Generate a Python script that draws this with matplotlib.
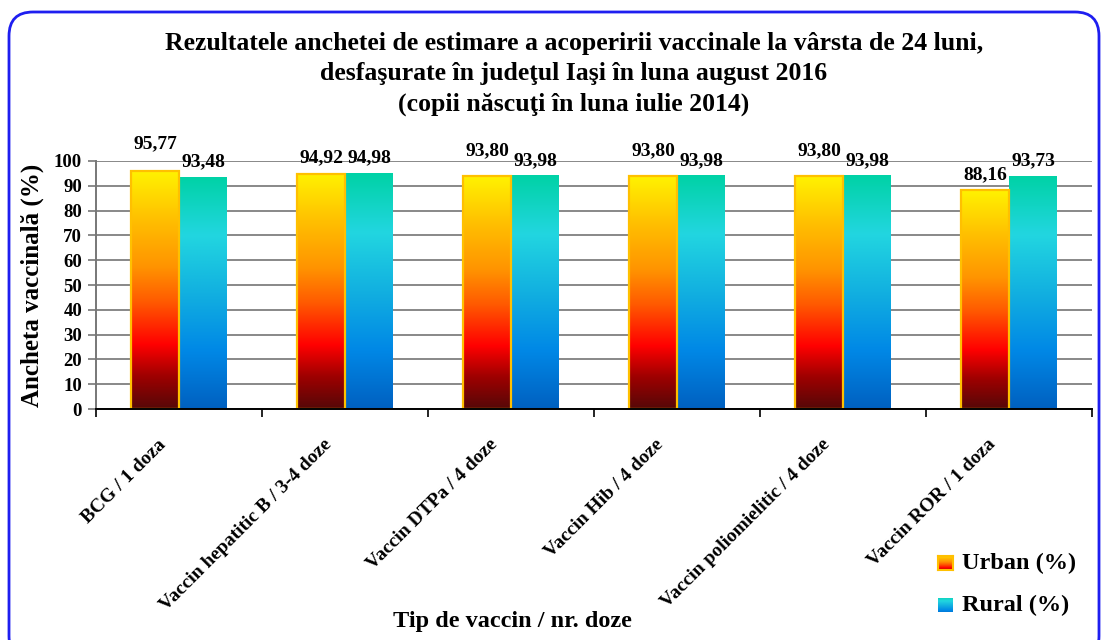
import numpy as np
import matplotlib
matplotlib.use("Agg")
import matplotlib.pyplot as plt
from matplotlib.colors import LinearSegmentedColormap
from matplotlib.patches import FancyBboxPatch

# ---------------- data ----------------
categories = ["BCG / 1 doza", "Vaccin hepatitic B / 3-4 doze", "Vaccin DTPa / 4 doze",
              "Vaccin Hib / 4 doze", "Vaccin poliomielitic / 4 doze", "Vaccin ROR / 1 doza"]
urban = [95.77, 94.92, 93.80, 93.80, 93.80, 88.16]
rural = [93.48, 94.98, 93.98, 93.98, 93.98, 93.73]
urban_labels = ["95,77", "94,92", "93,80", "93,80", "93,80", "88,16"]
rural_labels = ["93,48", "94,98", "93,98", "93,98", "93,98", "93,73"]
yticks = [0, 10, 20, 30, 40, 50, 60, 70, 80, 90, 100]
series_names = ["Urban (%)", "Rural (%)"]
title = ("Rezultatele anchetei de estimare a acoperirii vaccinale la vârsta de 24 luni,\n"
         "desfaşurate în judeţul Iaşi în luna august 2016\n"
         "(copii născuţi în luna iulie 2014)")
ylabel = "Ancheta vaccinală (%)"
xlabel = "Tip de vaccin / nr. doze"

# ---------------- style ----------------
FONT = "Liberation Serif"
plt.rcParams["font.family"] = [FONT, "DejaVu Serif"]
plt.rcParams["font.weight"] = "bold"

urban_cmap = LinearSegmentedColormap.from_list("urban", [
    (0.00, "#560808"), (0.14, "#A00000"), (0.27, "#FF0000"), (0.45, "#FF5A00"),
    (0.60, "#FF9400"), (0.80, "#FFC000"), (1.00, "#FFF200")])
rural_cmap = LinearSegmentedColormap.from_list("rural", [
    (0.00, "#0060C0"), (0.25, "#0088E6"), (0.50, "#12B0E0"), (0.75, "#22D6E0"),
    (1.00, "#00D2A6")])
grad = np.linspace(0, 1, 256).reshape(-1, 1)

W, H = 1102, 640
fig = plt.figure(figsize=(W / 100, H / 100), dpi=100)
ax = fig.add_axes([96 / W, 1 - 409 / H, (1092 - 96) / W, (409 - 161) / H])

x = np.arange(len(categories))
bw = 0.289
bars_u = ax.bar(x - bw / 2, urban, bw, facecolor="none", edgecolor="#FFC000",
                linewidth=1.6, zorder=4)
bars_r = ax.bar(x + bw / 2, rural, bw, facecolor="none", edgecolor="none", zorder=4)
for bars, cmap in ((bars_u, urban_cmap), (bars_r, rural_cmap)):
    for b in bars:
        x0, w, h = b.get_x(), b.get_width(), b.get_height()
        ax.imshow(grad, cmap=cmap, origin="lower", aspect="auto",
                  extent=[x0, x0 + w, 0, h], zorder=3, interpolation="bilinear")

# data labels
urban_raise = [9, 0, 7, 7, 7, 0]  # extra label lift in points (layout)
for i, b in enumerate(bars_u):
    ax.annotate(urban_labels[i], (b.get_x() + b.get_width() / 2, b.get_height()),
                xytext=(0, 5 + urban_raise[i]), textcoords="offset points",
                ha="center", va="bottom", fontsize=14, fontweight="bold", zorder=6)
for i, b in enumerate(bars_r):
    ax.annotate(rural_labels[i], (b.get_x() + b.get_width() / 2, b.get_height()),
                xytext=(0, 5), textcoords="offset points",
                ha="center", va="bottom", fontsize=14, fontweight="bold", zorder=6)

ax.set_xlim(-0.5, len(categories) - 0.5)
ax.set_ylim(0, 100)
ax.set_yticks(yticks)
ax.set_yticklabels([str(t) for t in yticks], fontsize=13.5, fontweight="bold")
ax.yaxis.grid(True, color="#888888", linewidth=1.4, zorder=1)
ax.set_axisbelow(True)

ax.set_xticks(np.arange(-0.5, len(categories), 1.0))
ax.set_xticklabels([])
# category labels, rotated, ending just left of each category centre
for xi, cat in zip(x, categories):
    ax.annotate(cat, (xi, 0), xycoords=("data", "axes fraction"),
                xytext=(-22, -27), textcoords="offset pixels",
                rotation=45, ha="right", va="top", rotation_mode="anchor",
                fontsize=14, fontweight="bold", annotation_clip=False)
ax.tick_params(axis="x", which="major", length=6, width=1.2, direction="out", color="black")
ax.tick_params(axis="y", length=6, width=1.2, direction="out", color="#777777", pad=4)

for s in ("top", "right"):
    ax.spines[s].set_visible(False)
ax.spines["left"].set_color("#777777")
ax.spines["left"].set_linewidth(1.4)
ax.spines["bottom"].set_color("black")
ax.spines["bottom"].set_linewidth(1.4)
ax.spines["bottom"].set_zorder(5)

ax.set_ylabel(ylabel, fontsize=18, fontweight="bold")
ax.yaxis.set_label_coords((44 - 96) / (1092 - 96), 0.5)

fig.text(574 / W, 1 - 74 / H, title, ha="center", va="center", fontsize=18.5,
         fontweight="bold", linespacing=1.42)
fig.text(512 / W, 1 - 621 / H, xlabel, ha="center", va="center", fontsize=17.5,
         fontweight="bold")

# legend swatches
for (yc, cmap, name, edge) in ((563, urban_cmap, series_names[0], "#FFC000"),
                               (605, rural_cmap, series_names[1], "none")):
    sax = fig.add_axes([938 / W, 1 - (yc + 7) / H, 15 / W, 14 / H])
    sax.imshow(grad[40:230], cmap=cmap, origin="lower", aspect="auto",
               vmin=0, vmax=1)
    sax.set_xticks([]); sax.set_yticks([])
    for s in sax.spines.values():
        s.set_visible(edge != "none")
        s.set_color(edge)
        s.set_linewidth(1.5)
    fig.text(962 / W, 1 - yc / H, name, ha="left", va="center", fontsize=17.5,
             fontweight="bold")

# rounded blue frame
frame = FancyBboxPatch((0.09, -0.2), 10.9, 6.28 + 0.2,
                       boxstyle="round,pad=0,rounding_size=0.24",
                       transform=fig.dpi_scale_trans, facecolor="none",
                       edgecolor="#1E1EF0", linewidth=2.0, zorder=10)
fig.patches.append(frame)

fig.savefig("out.png", dpi=100)
